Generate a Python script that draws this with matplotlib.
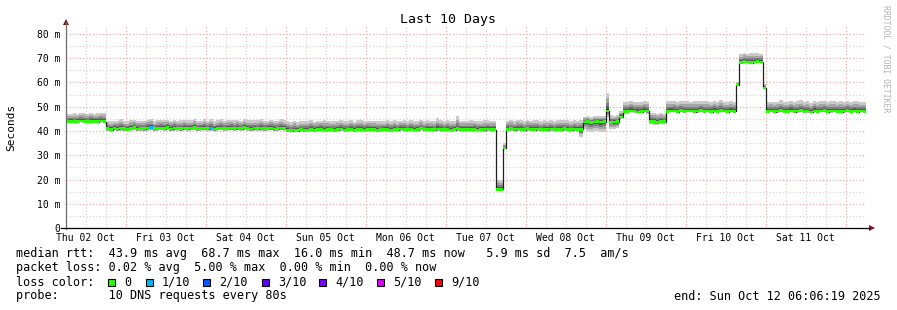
import numpy as np
import matplotlib
matplotlib.use("Agg")
import matplotlib.pyplot as plt
from matplotlib.lines import Line2D
from matplotlib.patches import Rectangle, Polygon

plt.rcParams['font.family'] = 'DejaVu Sans Mono'

W, H = 897, 310

# graph starts Thu 02 Oct 06:06:19 (hours counted from Oct 02 00:00), 10 days, one value per hour
start_hour = 6.105
day_labels = ["Thu 02 Oct", "Fri 03 Oct", "Sat 04 Oct", "Sun 05 Oct", "Mon 06 Oct",
              "Tue 07 Oct", "Wed 08 Oct", "Thu 09 Oct", "Fri 10 Oct", "Sat 11 Oct"]

# median rtt in ms, one per hour
median_ms = [
    43.9, 44.0, 43.8, 44.0, 44.1, 43.9, 43.8, 44.0, 44.0, 43.9, 44.1, 43.9, 41.0, 40.6, 41.2, 40.8, 41.3, 40.9, 40.7, 41.1, 41.4, 40.8, 41.0, 40.9,
    41.2, 41.4, 40.9, 41.1, 41.3, 41.0, 41.5, 40.8, 41.2, 41.1, 40.9, 41.3, 41.0, 41.2, 41.4, 40.9, 41.1, 41.3, 41.0, 41.2, 40.8, 41.1, 41.3, 41.0,
    41.1, 41.3, 40.9, 41.2, 41.0, 41.4, 41.1, 40.8, 41.2, 41.0, 41.3, 40.9, 41.1, 41.2, 40.8, 41.0, 41.3, 41.1, 40.3, 40.1, 40.4, 40.2, 40.5, 40.3,
    40.4, 40.6, 40.3, 40.5, 40.7, 40.4, 40.6, 40.5, 40.3, 40.6, 40.8, 40.4, 40.5, 40.7, 40.3, 40.6, 40.5, 40.4, 40.7, 40.5, 40.6, 40.3, 40.5, 40.6,
    40.6, 40.4, 40.7, 40.5, 40.8, 40.6, 40.5, 40.7, 40.4, 40.6, 40.9, 40.5, 40.7, 40.6, 40.5, 40.8, 40.6, 40.5, 40.7, 40.4, 40.6, 40.9, 40.6, 40.5,
    40.6, 40.5, 40.7, 40.4, 40.6, 40.5, 40.8, 40.6, 40.5, 16.0, 16.0, 33.0, 40.7, 40.9, 40.6, 40.8, 40.7, 40.5, 40.9, 40.7, 40.6, 40.8, 40.5, 40.7,
    40.6, 40.8, 40.5, 40.7, 40.6, 40.9, 40.7, 40.5, 40.8, 40.6, 40.7, 43.7, 43.8, 43.6, 43.7, 43.9, 43.7, 43.8, 48.3, 43.6, 43.7, 43.8, 45.8, 48.0,
    48.1, 48.3, 48.2, 47.9, 48.0, 48.3, 48.2, 44.0, 43.8, 43.7, 43.9, 43.8, 48.1, 48.3, 48.2, 48.0, 48.4, 48.1, 48.2, 48.3, 48.0, 48.2, 48.4, 48.1,
    48.2, 48.0, 48.3, 48.1, 48.4, 48.2, 48.0, 48.3, 48.1, 59.0, 68.3, 68.6, 68.4, 68.2, 68.5, 68.7, 68.4, 57.8, 48.1, 48.3, 48.0, 48.2, 48.4, 48.1,
    48.1, 48.3, 48.0, 48.2, 48.4, 48.1, 48.2, 47.9, 48.3, 48.1, 48.2, 48.4, 48.0, 48.2, 48.3, 48.1, 48.0, 48.2, 48.4, 48.1, 48.3, 48.0, 48.2, 48.1,
]

# how far the slowest pings reach above the median (ms), one per hour
smoke_up_ms = [
    3.3, 3.1, 3.5, 3.0, 3.4, 3.6, 3.2, 3.5, 3.1, 3.4, 3.3, 3.6, 3.2, 3.5, 3.0, 3.4, 3.6, 3.1, 3.3, 3.5, 3.2, 3.4, 3.0, 3.3,
    3.4, 3.6, 3.1, 3.5, 3.3, 3.7, 3.2, 3.5, 3.4, 3.0, 3.6, 3.3, 3.5, 3.2, 3.7, 3.4, 3.1, 3.5, 3.3, 3.6, 3.2, 3.4, 3.5, 3.1,
    3.5, 3.2, 3.6, 3.4, 3.1, 3.5, 3.3, 3.7, 3.2, 3.4, 3.6, 3.3, 3.1, 3.5, 3.4, 3.2, 3.6, 3.3, 3.8, 3.6, 3.9, 3.5, 3.7, 3.8,
    3.7, 3.9, 3.5, 3.8, 3.6, 4.0, 3.7, 3.5, 3.9, 3.6, 3.8, 3.7, 3.5, 3.9, 3.6, 3.8, 4.0, 3.7, 3.5, 3.8, 3.6, 3.9, 3.7, 3.5,
    3.8, 3.6, 3.9, 3.7, 3.5, 3.8, 3.6, 3.9, 3.7, 3.5, 3.8, 3.6, 3.9, 3.7, 3.6, 4.4, 3.8, 3.6, 3.9, 3.7, 3.5, 5.3, 3.7, 3.8,
    3.7, 3.9, 3.6, 3.8, 3.5, 3.9, 3.7, 3.6, 3.8, 4.0, 3.8, 2.0, 3.6, 3.8, 3.5, 3.9, 3.7, 3.6, 3.8, 3.5, 3.9, 3.7, 3.6, 3.8,
    3.6, 3.8, 3.5, 3.7, 3.9, 3.6, 3.8, 3.5, 3.7, 3.6, 3.8, 2.2, 2.5, 2.1, 2.4, 2.3, 2.6, 2.2, 7.5, 2.8, 2.6, 2.9, 2.5, 3.8,
    3.9, 4.1, 3.7, 4.0, 3.8, 4.2, 3.9, 3.6, 3.8, 3.5, 3.7, 3.4, 4.2, 4.0, 4.3, 3.9, 4.1, 4.4, 4.0, 3.8, 4.2, 4.1, 3.9, 4.3,
    4.1, 3.9, 4.2, 4.0, 4.3, 3.8, 4.1, 4.0, 3.9, 1.0, 3.4, 3.7, 3.5, 3.8, 3.6, 3.3, 3.5, 1.5, 4.0, 3.8, 4.1, 3.9, 4.2, 4.0,
    3.9, 4.1, 3.8, 4.0, 4.2, 3.9, 4.0, 3.7, 4.1, 3.9, 4.2, 4.0, 3.8, 4.1, 3.9, 4.0, 4.2, 3.8, 4.1, 3.9, 4.0, 4.2, 3.8, 3.9,
]

# how far the fastest pings reach below the median (ms), one per 2 hours
smoke_down_ms = [
    0.3, 0.4, 0.3, 0.3, 0.4, 0.3, 1.0, 0.9, 1.1, 1.0, 0.9, 1.1,
    1.0, 1.1, 0.9, 1.0, 1.2, 1.0, 0.9, 1.1, 1.0, 1.0, 1.1, 0.9,
    1.0, 0.9, 1.1, 1.0, 1.0, 1.1, 0.9, 1.0, 1.0, 0.6, 0.7, 0.6,
    0.7, 0.6, 0.8, 0.7, 0.6, 0.7, 0.8, 0.6, 0.7, 0.7, 0.6, 0.8,
    0.7, 0.8, 0.6, 0.7, 0.7, 0.6, 0.8, 0.7, 0.6, 0.7, 0.8, 0.7,
    0.7, 0.6, 0.8, 0.7, 0.5, 0.5, 0.8, 0.7, 0.6, 0.7, 0.8, 0.7,
    0.7, 0.6, 0.8, 0.7, 0.7, 3.0, 4.0, 3.8, 4.1, 2.6, 2.7, 0.8,
    0.5, 0.6, 0.5, 1.0, 1.2, 0.9, 0.6, 0.5, 0.6, 0.5, 0.6, 0.5,
    0.5, 0.6, 0.5, 0.6, 0.5, 0.4, 0.5, 0.4, 0.3, 0.5, 0.6, 0.5,
    0.5, 0.6, 0.5, 0.6, 0.5, 0.5, 0.6, 0.5, 0.6, 0.5, 0.6, 0.5,
]

# hours (index into median_ms) that lost 1 of 10 pings
loss_1_hours = [25, 43]

loss_names = ["0", "1/10", "2/10", "3/10", "4/10", "5/10", "9/10"]
loss_colors = ["#26ff00", "#00b8ff", "#0059ff", "#5e00ff", "#7e00ff", "#dd00ff", "#ff0000"]

rtt_line = "median rtt:  43.9 ms avg  68.7 ms max  16.0 ms min  48.7 ms now   5.9 ms sd  7.5  am/s"
loss_line = "packet loss: 0.02 % avg  5.00 % max  0.00 % min  0.00 % now"
probe_line = "probe:       10 DNS requests every 80s"
end_line = "end: Sun Oct 12 06:06:19 2025"


def fx(x):
    return x / W


def fy(y):
    return 1 - y / H


fig = plt.figure(figsize=(W / 100, H / 100), dpi=100)
ax = fig.add_axes([fx(66), fy(228), 800 / W, 202 / H])
ax.set_xlim(start_hour, start_hour + 240)
ax.set_ylim(0, 202 / 2.425)
for s in ax.spines.values():
    s.set_visible(False)

# grid: 6h / 5ms minor, day / 10ms major
for h in range(6, 247, 6):
    if h <= start_hour:
        continue
    c = "#e9a3a3" if h % 24 == 0 else "#cfcfcf"
    ax.axvline(h, color=c, lw=0.8, ls=(0, (1, 2)), zorder=0)
for v in range(5, 84, 5):
    c = "#e9a3a3" if v % 10 == 0 else "#cfcfcf"
    ax.axhline(v, color=c, lw=0.8, ls=(0, (1, 2)), zorder=0)

med = np.array(median_ms)
up = np.array(smoke_up_ms)
down = np.repeat(np.array(smoke_down_ms), 2)
edges = start_hour + np.arange(len(med) + 1)


def ext(a):
    return np.append(a, a[-1])


# smoke, lightest (outer pings) to darkest (inner pings)
greys = ["#cacaca", "#a4a4a4", "#7e7e7e", "#585858", "#323232"]
fracs = [1.0, 0.7, 0.45, 0.25, 0.1]
for g, f in zip(greys, fracs):
    ax.fill_between(edges, ext(med - down * f), ext(med + up * f), step="post",
                    color=g, lw=0, zorder=2)

# median line and loss colour band
ax.step(edges, ext(med), where="post", color="#202020", lw=0.9, zorder=3)
ax.fill_between(edges, ext(med - 0.55), ext(med + 0.55), step="post",
                color=loss_colors[0], lw=0, zorder=4)
for i in loss_1_hours:
    ax.fill_between(edges[i:i + 2], med[i] - 0.55, med[i] + 0.55,
                    color=loss_colors[1], lw=0, zorder=5)

ax.set_yticks(range(0, 81, 10))
ax.set_yticklabels(["0"] + [f"{v} m" for v in range(10, 81, 10)])
ax.set_xticks(np.arange(12, 229, 24))
ax.set_xticklabels(day_labels)
ax.tick_params(axis="both", length=0, labelsize=7, colors="#000000")
ax.tick_params(axis="y", pad=4.3)
ax.tick_params(axis="x", pad=3.5)

# axes with arrows
fig.add_artist(Line2D([fx(66), fx(66)], [fy(229), fy(22)], color="#6e6e6e", lw=0.9))
fig.add_artist(Line2D([fx(61), fx(869)], [fy(228), fy(228)], color="#000000", lw=0.9))
fig.add_artist(Polygon([[fx(63), fy(25)], [fx(69), fy(25)], [fx(66), fy(19)]],
                       closed=True, color="#7f1414", lw=0))
fig.add_artist(Polygon([[fx(869), fy(225)], [fx(869), fy(231)], [fx(875), fy(228)]],
                       closed=True, color="#7f1414", lw=0))

fig.text(fx(448), fy(19), "Last 10 Days", ha="center", va="center", fontsize=9.5)
fig.text(fx(11), fy(127), "Seconds", rotation=90, ha="center", va="center", fontsize=8)
fig.text(fx(886), fy(59), "RRDTOOL / TOBI OETIKER", rotation=270, ha="center", va="center",
         fontsize=5.9, color="#b4b4b4")

lfs = 8.5
fig.text(fx(16), fy(254), rtt_line, ha="left", va="center", fontsize=lfs)
fig.text(fx(16), fy(268), loss_line, ha="left", va="center", fontsize=lfs)
fig.text(fx(16), fy(282), "loss color:", ha="left", va="center", fontsize=lfs)
box_x = [108, 146, 203, 262, 319, 377, 435]
for bx, name, col in zip(box_x, loss_names, loss_colors):
    fig.add_artist(Rectangle((fx(bx), fy(285.5)), 7 / W, 7 / H, facecolor=col,
                             edgecolor="#000000", lw=0.8))
    fig.text(fx(bx + 16), fy(282), name, ha="left", va="center", fontsize=lfs)
fig.text(fx(16), fy(296), probe_line, ha="left", va="center", fontsize=lfs)
fig.text(fx(881), fy(296), end_line, ha="right", va="center", fontsize=lfs)

fig.savefig("out.png", dpi=100)
